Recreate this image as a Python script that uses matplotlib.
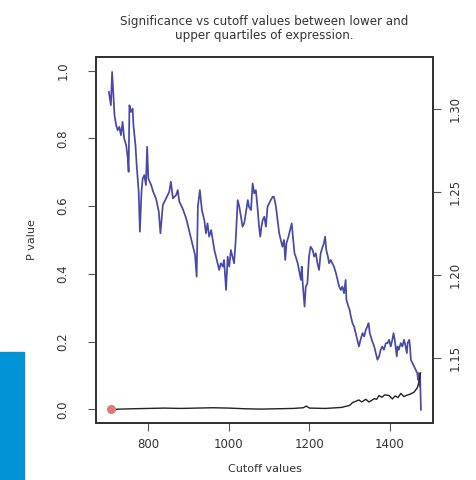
import numpy as np
import matplotlib
matplotlib.use("Agg")
import matplotlib.pyplot as plt
from matplotlib.patches import Rectangle

# ratio curve (right axis)
cutoff_r = [702, 707, 710, 716, 720, 724, 728, 732, 736, 740, 745, 749, 751, 753, 757,
            761, 763, 768, 771, 776, 779, 783, 786, 790, 794, 797, 800, 807, 812, 819,
            826, 830, 836, 844, 852, 856, 861, 869, 873, 877, 885, 894, 902, 910, 916,
            920, 923, 928, 933, 939, 943, 947, 951, 956, 960, 964, 968, 972, 976, 980,
            985, 988, 993, 997, 1001, 1005, 1009, 1013, 1017, 1022, 1026, 1030, 1034, 1038, 1042,
            1047, 1050, 1055, 1059, 1063, 1067, 1071, 1075, 1078, 1081, 1084, 1088, 1092, 1096, 1100,
            1104, 1109, 1112, 1117, 1121, 1125, 1129, 1133, 1137, 1140, 1143, 1148, 1152, 1156, 1160,
            1163, 1166, 1171, 1175, 1179, 1181, 1184, 1188, 1191, 1195, 1199, 1203, 1208, 1212, 1216,
            1220, 1224, 1228, 1233, 1236, 1239, 1242, 1246, 1249, 1253, 1257, 1261, 1266, 1270, 1274,
            1278, 1282, 1286, 1290, 1292, 1297, 1300, 1303, 1307, 1311, 1315, 1319, 1323, 1327, 1332,
            1336, 1340, 1344, 1347, 1350, 1355, 1361, 1365, 1369, 1373, 1377, 1381, 1385, 1390, 1394,
            1398, 1402, 1406, 1409, 1412, 1414, 1417, 1419, 1422, 1427, 1431, 1435, 1439, 1442, 1444,
            1448, 1450, 1452, 1456, 1460, 1464, 1468, 1470, 1472, 1474, 1475, 1476, 1477]
ratio = [1.310, 1.302, 1.322, 1.296, 1.290, 1.287, 1.289, 1.284, 1.292, 1.282, 1.278, 1.270, 1.262, 1.302, 1.298,
         1.300, 1.290, 1.278, 1.266, 1.250, 1.226, 1.250, 1.258, 1.260, 1.254, 1.277, 1.258, 1.254, 1.250, 1.246,
         1.238, 1.225, 1.242, 1.246, 1.250, 1.256, 1.246, 1.248, 1.251, 1.244, 1.240, 1.234, 1.226, 1.218, 1.212,
         1.199, 1.241, 1.251, 1.239, 1.233, 1.225, 1.231, 1.223, 1.227, 1.221, 1.215, 1.211, 1.207, 1.203, 1.207,
         1.205, 1.209, 1.191, 1.211, 1.205, 1.215, 1.211, 1.207, 1.221, 1.245, 1.241, 1.235, 1.229, 1.231, 1.237,
         1.245, 1.241, 1.239, 1.255, 1.249, 1.251, 1.241, 1.229, 1.223, 1.229, 1.233, 1.235, 1.229, 1.241, 1.243,
         1.245, 1.247, 1.247, 1.241, 1.233, 1.225, 1.221, 1.217, 1.221, 1.209, 1.219, 1.223, 1.227, 1.231, 1.221,
         1.213, 1.211, 1.207, 1.202, 1.197, 1.205, 1.193, 1.181, 1.193, 1.195, 1.211, 1.217, 1.215, 1.211, 1.213,
         1.207, 1.203, 1.213, 1.217, 1.219, 1.223, 1.215, 1.211, 1.207, 1.209, 1.207, 1.205, 1.201, 1.197, 1.193,
         1.191, 1.193, 1.189, 1.197, 1.185, 1.181, 1.179, 1.175, 1.171, 1.169, 1.165, 1.161, 1.157, 1.161, 1.165,
         1.163, 1.167, 1.169, 1.171, 1.165, 1.161, 1.157, 1.153, 1.149, 1.151, 1.155, 1.157, 1.155, 1.159, 1.159,
         1.161, 1.157, 1.161, 1.165, 1.161, 1.157, 1.151, 1.157, 1.155, 1.159, 1.157, 1.161, 1.157, 1.153, 1.159,
         1.161, 1.157, 1.149, 1.147, 1.145, 1.143, 1.141, 1.137, 1.141, 1.133, 1.140, 1.129, 1.119]

# p values (left axis)
cutoff_p = [708, 730, 760, 800, 840, 880, 920, 960, 1000, 1040, 1080, 1120, 1160, 1185, 1192,
            1200, 1240, 1280, 1290, 1300, 1307, 1315, 1323, 1330, 1340, 1348, 1355, 1361, 1367, 1373,
            1380, 1387, 1398, 1406, 1413, 1420, 1427, 1435, 1442, 1450, 1460, 1468, 1472, 1476]
pvals = [0.000, 0.001, 0.002, 0.003, 0.004, 0.003, 0.004, 0.005, 0.004, 0.002, 0.001, 0.002, 0.003, 0.005, 0.010,
         0.004, 0.003, 0.006, 0.009, 0.012, 0.020, 0.024, 0.028, 0.022, 0.030, 0.022, 0.027, 0.032, 0.030, 0.041,
         0.036, 0.043, 0.041, 0.031, 0.040, 0.035, 0.047, 0.038, 0.042, 0.045, 0.051, 0.064, 0.080, 0.108]

fig = plt.figure(figsize=(4.77, 4.80), dpi=100)
fig.patches.append(Rectangle((0, 0), 24 / 477, 128 / 480, transform=fig.transFigure,
                             color="#0093d6", zorder=0))

ax = fig.add_axes([96 / 477, 57 / 480, 337 / 477, 366 / 480])
ax2 = ax.twinx()

ax.plot(cutoff_p, pvals, color="#222222", lw=1.0, zorder=3)
ax.plot(cutoff_p[0], pvals[0], "o", color="#e07878", ms=5.5, zorder=4)
ax2.plot(cutoff_r, ratio, color="#4848a8", lw=1.25)

ax.set_xlim(670, 1507)
ax.set_ylim(-0.04, 1.04)
ax2.set_ylim(1.111, 1.331)
ax.set_xticks([800, 1000, 1200, 1400])
ax.set_yticks([0.0, 0.2, 0.4, 0.6, 0.8, 1.0])
ax2.set_yticks([1.15, 1.20, 1.25, 1.30])
ax.set_yticklabels(["0.0", "0.2", "0.4", "0.6", "0.8", "1.0"], rotation=90, va="center")
ax2.set_yticklabels(["1.15", "1.20", "1.25", "1.30"], rotation=90, va="center")

tc = "#333333"
for a in (ax, ax2):
    a.tick_params(length=6, width=0.8, color="#555555", labelsize=8.5, labelcolor=tc)
    for s in a.spines.values():
        s.set_linewidth(1.3)
        s.set_color("#333333")
ax.tick_params(axis="x", pad=5)
ax.tick_params(axis="y", pad=13)
ax2.tick_params(axis="y", pad=5)
ax.patch.set_visible(False)
ax.set_zorder(ax2.get_zorder() + 1)

ax.set_xlabel("Cutoff values", fontsize=8, color=tc, labelpad=9)
ax.set_ylabel("P value", fontsize=8, color=tc, labelpad=14)
fig.text(264 / 477, 1 - 28 / 480,
         "Significance vs cutoff values between lower and\nupper quartiles of expression.",
         ha="center", va="center", fontsize=8.6, color=tc, linespacing=1.1)

fig.savefig("out.png", dpi=100)
